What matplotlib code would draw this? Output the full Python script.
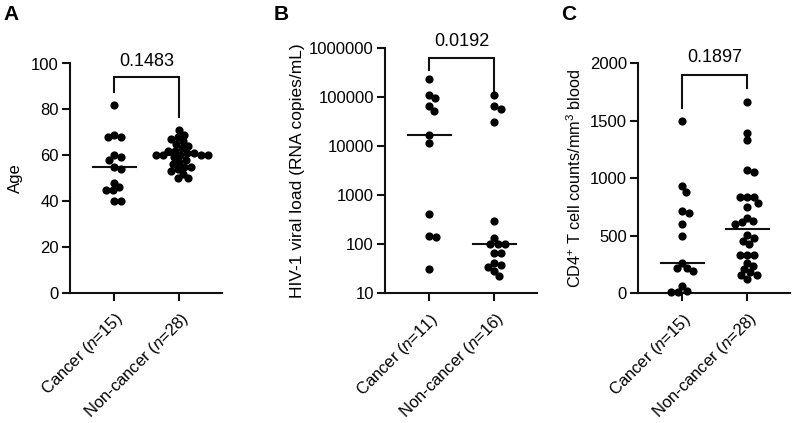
import numpy as np
import matplotlib
matplotlib.use('Agg')
import matplotlib.pyplot as plt

plt.rcParams['font.family'] = ['Liberation Sans', 'DejaVu Sans']
plt.rcParams['mathtext.fontset'] = 'custom'
plt.rcParams['mathtext.rm'] = 'Liberation Sans'
plt.rcParams['mathtext.it'] = 'Liberation Sans:italic'
plt.rcParams['mathtext.bf'] = 'Liberation Sans:bold'

# ---------------- data ----------------
groups_A = ['Cancer ($\\mathit{n}$=15)', 'Non-cancer ($\\mathit{n}$=28)']
age_cancer = [82, 69, 68, 68, 60, 59, 58, 55, 54, 48, 46, 45, 45, 40, 40]
age_noncancer = [71, 69, 68, 67, 66, 65, 64, 63, 62, 62, 61, 61, 60, 60, 60, 60,
                 60, 59, 58, 57, 56, 55, 55, 54, 53, 52, 50, 50]
p_A = '0.1483'

groups_B = ['Cancer ($\\mathit{n}$=11)', 'Non-cancer ($\\mathit{n}$=16)']
vl_cancer = [234000, 111000, 95000, 66000, 53000, 17000, 11500, 410, 148, 140, 31]
vl_noncancer = [111000, 66000, 58000, 31000, 295, 132, 100, 100, 100, 66, 66,
                41, 38, 35, 29, 23]
p_B = '0.0192'

groups_C = ['Cancer ($\\mathit{n}$=15)', 'Non-cancer ($\\mathit{n}$=28)']
cd4_cancer = [1500, 936, 884, 716, 698, 603, 501, 265, 220, 220, 194, 63, 20, 15, 15]
cd4_noncancer = [1661, 1397, 1336, 1072, 1055, 840, 840, 840, 788, 748, 658, 631,
                 620, 603, 507, 484, 458, 426, 336, 336, 336, 266, 238, 211, 182,
                 157, 157, 127]
p_C = '0.1897'

yticks_A = [0, 20, 40, 60, 80, 100]
yticks_B = [10, 100, 1000, 10000, 100000, 1000000]
yticks_C = [0, 500, 1000, 1500, 2000]

# ---------------- figure ----------------
W, H = 794, 423
fig = plt.figure(figsize=(W / 100, H / 100), dpi=100)

def fr(x0, x1, ytop, ybot):
    return [x0 / W, 1 - ybot / H, (x1 - x0) / W, (ybot - ytop) / H]

axA = fig.add_axes(fr(70, 222, 63.5, 292.7))
axB = fig.add_axes(fr(385, 537, 48.3, 293.3))
axC = fig.add_axes(fr(638, 790, 63.3, 293.3))

LW = 1.5
DOT = 7.0  # px spacing for swarm
MS = 4.9
FS = 12


def swarm_x(ax, xc, vals, d=DOT):
    trans = ax.transData
    pts = trans.transform(np.column_stack([np.full(len(vals), float(xc)), vals]))
    ys = pts[:, 1]
    ppu = trans.transform((1, 0))[0] - trans.transform((0, 0))[0]
    order = np.argsort(-ys, kind='stable')
    placed = []
    offs = np.zeros(len(vals))
    for i in order:
        y = ys[i]
        near = [(px, py) for px, py in placed if abs(py - y) < d]
        cands = [0.0]
        for px, py in near:
            dx = np.sqrt(max(d * d - (py - y) ** 2, 0))
            cands += [px + dx, px - dx]
        cands = sorted(set(cands), key=lambda c: (round(abs(c), 6), c < 0))
        chosen = 0.0
        for c in cands:
            if all((c - px) ** 2 + (y - py) ** 2 >= d * d - 1e-6 for px, py in near):
                chosen = c
                break
        offs[i] = chosen
        placed.append((chosen, y))
    return xc + offs / ppu


def setup(ax, labels, ylim, yticks, log=False):
    if log:
        ax.set_yscale('log')
    ax.set_xlim(-0.68, 1.66)
    ax.set_ylim(*ylim)
    ax.set_yticks(yticks)
    ax.set_yticklabels([str(t) for t in yticks])
    ax.minorticks_off()
    ax.set_xticks([0, 1])
    ax.set_xticklabels(labels, rotation=45, ha='right', rotation_mode='anchor',
                       fontsize=FS)
    for s in ['top', 'right']:
        ax.spines[s].set_visible(False)
    for s in ['left', 'bottom']:
        ax.spines[s].set_linewidth(LW)
        ax.spines[s].set_color('#111111')
    ax.tick_params(axis='both', width=LW, length=6, color='#111111',
                   labelsize=FS, pad=2)
    ax.tick_params(axis='x', pad=6)


def draw(ax, groups_vals):
    for xc, vals in enumerate(groups_vals):
        xs = swarm_x(ax, xc, vals)
        ax.plot(xs, vals, 'o', ms=MS, color='black', mec='black', clip_on=False,
                zorder=5)
        med = np.median(vals)
        ax.plot([xc - 0.33, xc + 0.33], [med, med], color='#111111', lw=LW,
                zorder=4, clip_on=False)


def bracket(ax, yh, yl, yr, ytext, text):
    ax.plot([0, 0, 1, 1], [yl, yh, yh, yr], color='#111111', lw=LW,
            clip_on=False, solid_joinstyle='miter')
    ax.text(0.5, ytext, text, ha='center', va='center', fontsize=13,
            clip_on=False)


setup(axA, groups_A, (0, 100), yticks_A)
draw(axA, [age_cancer, age_noncancer])
bracket(axA, 94, 87.5, 76.5, 100.8, p_A)
axA.set_ylabel('Age', fontsize=12, labelpad=6)

setup(axB, groups_B, (10, 1e6), yticks_B, log=True)
draw(axB, [vl_cancer, vl_noncancer])
bracket(axB, 6.2e5, 3.6e5, 1.25e5, 1.36e6, p_B)
axB.set_ylabel('HIV-1 viral load (RNA copies/mL)', fontsize=12.5, labelpad=3)

setup(axC, groups_C, (0, 2000), yticks_C)
draw(axC, [cd4_cancer, cd4_noncancer])
bracket(axC, 1898, 1609, 1783, 2054, p_C)
axC.set_ylabel('CD4$^{+}$ T cell counts/mm$^{3}$ blood', fontsize=11.7, labelpad=4)

for lab, x, y in [('A', 3, 14), ('B', 274, 14), ('C', 561, 15)]:
    fig.text(x / W, 1 - y / H, lab, fontsize=15, fontweight='bold', ha='left',
             va='center')

fig.savefig('out.png', dpi=100)
